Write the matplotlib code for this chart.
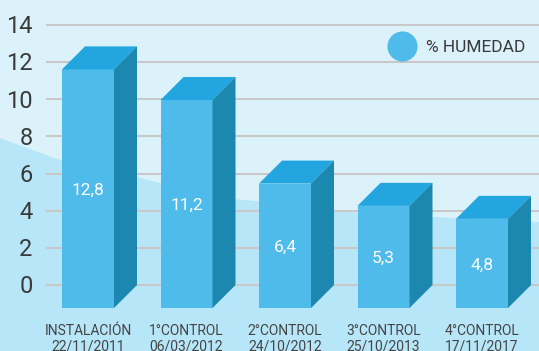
import numpy as np
import matplotlib
matplotlib.use("Agg")
import matplotlib.pyplot as plt
from matplotlib.patches import Polygon, Rectangle

plt.rcParams['font.family'] = ['Roboto', 'DejaVu Sans']

# ---- data ----
categories_line1 = ["INSTALACIÓN", "1°CONTROL", "2°CONTROL", "3°CONTROL", "4°CONTROL"]
categories_line2 = ["22/11/2011", "06/03/2012", "24/10/2012", "25/10/2013", "17/11/2017"]
bar_heights = [12.85, 11.2, 6.7, 5.5, 4.8]          # heights as drawn in the picture
value_labels = ["12,8", "11,2", "6,4", "5,3", "4,8"]
y_ticks = [0, 2, 4, 6, 8, 10, 12, 14]
legend_label = "% HUMEDAD"

# ---- styling ----
FRONT = "#4EBBEA"
TOP = "#23A6DF"
SIDE = "#1C88B0"
BG_UP = "#DCF2FB"
BG_LOW = "#B8E6F9"
GRID = "#C8C8C8"
TXT = "#3A3A3A"

W, H = 539, 351
PX_X = 98.5     # pixels per category
PX_Y = 18.57    # pixels per y unit
X0 = 88.0       # pixel of first bar front center
Y0 = 285.0      # pixel (from top) of y = 0

def X(px):
    return (px - X0) / PX_X

def Y(py):
    return (Y0 - py) / PX_Y

fig = plt.figure(figsize=(W / 100, H / 100), dpi=100)
ax = fig.add_axes([0, 0, 1, 1])
ax.set_xlim(X(0), X(W))
ax.set_ylim(Y(H), Y(0))
ax.axis('off')

# background
ax.add_patch(Rectangle((X(0), Y(H)), X(W) - X(0), Y(0) - Y(H), color=BG_UP, zorder=0))
wave_px = [(0, 138), (60, 160), (137, 177), (161, 183), (235, 199), (259, 201.5),
           (334, 211), (358, 212.5), (433, 217), (456, 218), (539, 222)]
wx = np.linspace(0, W, 200)
wy = np.interp(wx, [p[0] for p in wave_px], [p[1] for p in wave_px])
poly = [(X(a), Y(b)) for a, b in zip(wx, wy)] + [(X(W), Y(H)), (X(0), Y(H))]
ax.add_patch(Polygon(poly, closed=True, color=BG_LOW, lw=0, zorder=0.5))

# gridlines + y tick labels
for t in y_ticks:
    ax.plot([X(46), X(W)], [t, t], color=GRID, lw=1.5, zorder=1, solid_capstyle='butt')
    ax.text(X(32.7), t - 8.3 / PX_Y, str(t), ha='right', va='baseline',
            fontsize=17, color=TXT, zorder=3)

# bars
w = 52 / PX_X
dx = 23 / PX_X
dy = 23 / PX_Y
for i, v in enumerate(bar_heights):
    l, r = i - w / 2, i + w / 2
    ax.add_patch(Polygon([(l, -dy), (r, -dy), (r, v - dy), (l, v - dy)],
                         closed=True, color=FRONT, lw=0, zorder=4))
    ax.add_patch(Polygon([(l, v - dy), (r, v - dy), (r + dx, v), (l + dx, v)],
                         closed=True, color=TOP, lw=0, zorder=4))
    ax.add_patch(Polygon([(r, -dy), (r + dx, 0), (r + dx, v), (r, v - dy)],
                         closed=True, color=SIDE, lw=0, zorder=4))
    mid = (v - dy + (-dy)) / 2
    ax.text(i, mid - 5.9 / PX_Y, value_labels[i], ha='center', va='baseline',
            fontsize=12.5, color='white', zorder=5)
    ax.text(i, Y(335), categories_line1[i], ha='center', va='baseline',
            fontsize=10, color="#444444", zorder=5)
    ax.text(i, Y(350.7), categories_line2[i], ha='center', va='baseline',
            fontsize=10, color="#444444", zorder=5)

# legend
ax.scatter([X(401.7)], [Y(45.7)], s=470, color=FRONT, zorder=5, linewidths=0)
ax.text(X(425.7), Y(51.7), legend_label, ha='left', va='baseline',
        fontsize=12.5, color=TXT, zorder=5)

fig.savefig("out.png", dpi=100)
